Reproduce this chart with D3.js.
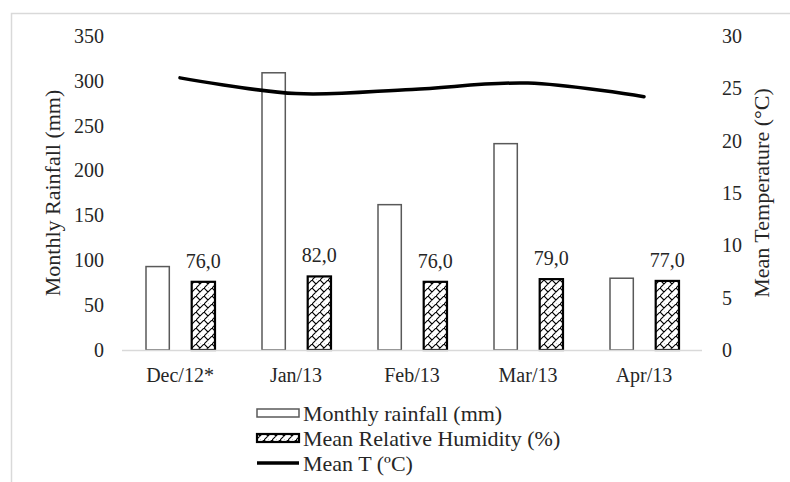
<!DOCTYPE html>
<html><head><meta charset="utf-8">
<script src="https://cdn.jsdelivr.net/npm/d3@7"></script>
<style>body{margin:0;background:#fff}svg{display:block}svg text{font-family:"Liberation Serif","Times New Roman",Tinos,Times,serif !important}</style>
</head><body>
<svg id="c" width="790" height="482"></svg>
<script>
const categories = ["Dec/12*", "Jan/13", "Feb/13", "Mar/13", "Apr/13"];
const rainfall = [93, 309, 162, 230, 80];
const humidity = [76, 82, 76, 79, 77];
const temperature = [26.0, 24.5, 24.9, 25.5, 24.2];
const leftTicks = [0, 50, 100, 150, 200, 250, 300, 350];
const rightTicks = [0, 5, 10, 15, 20, 25, 30];
const seriesNames = ["Monthly rainfall (mm)", "Mean Relative Humidity (%)", "Mean T (ºC)"];

const svg = d3.select("#c");
const defs = svg.append("defs");
const pat = defs.append("pattern").attr("id", "brick").attr("patternUnits", "userSpaceOnUse")
  .attr("width", 8).attr("height", 8);
pat.append("rect").attr("width", 8).attr("height", 8).attr("fill", "#fff");
pat.append("path").attr("d", "M-1,9 L9,-1 M0,0 L4,4 M4,8 L8,12 M-4,4 L0,8")
  .attr("stroke", "#000").attr("stroke-width", 1.1).attr("fill", "none");

// frame
svg.append("rect").attr("x", 11.5).attr("y", 13.5).attr("width", 800).attr("height", 500)
  .attr("fill", "none").attr("stroke", "#d9d9d9").attr("stroke-width", 1.5);

const x = d3.scaleBand().domain(categories).range([122, 702]).padding(0);
const x1 = d3.scaleBand().domain(["rain", "hum"]).range([-34, 35]).paddingInner(0.49);
const yL = d3.scaleLinear().domain([0, 350]).range([350, 36]);
const yR = d3.scaleLinear().domain([0, 30]).range([350, 36]);

const fs = 20;
const gL = svg.append("g").attr("transform", "translate(122,0)")
  .call(d3.axisLeft(yL).tickValues(leftTicks).tickSize(0).tickPadding(18));
gL.select(".domain").remove();
gL.selectAll("text").attr("font-size", fs).attr("fill", "#262626");
const gR = svg.append("g").attr("transform", "translate(702,0)")
  .call(d3.axisRight(yR).tickValues(rightTicks).tickSize(0).tickPadding(20));
gR.select(".domain").remove();
gR.selectAll("text").attr("font-size", fs).attr("fill", "#262626");

const groups = svg.append("g").selectAll("g").data(categories).join("g")
  .attr("transform", d => `translate(${x(d) + x.bandwidth() / 2},0)`);
groups.append("rect")
  .attr("x", x1("rain")).attr("width", x1.bandwidth())
  .attr("y", (d, i) => yL(rainfall[i])).attr("height", (d, i) => yL(0) - yL(rainfall[i]))
  .attr("fill", "#fff").attr("stroke", "#595959").attr("stroke-width", 1.5);
groups.append("rect")
  .attr("x", x1("hum")).attr("width", x1.bandwidth())
  .attr("y", (d, i) => yL(humidity[i])).attr("height", (d, i) => yL(0) - yL(humidity[i]))
  .attr("fill", "url(#brick)").attr("stroke", "#000").attr("stroke-width", 2.2);
groups.append("text")
  .attr("x", x1("hum") + x1.bandwidth() / 2)
  .attr("y", (d, i) => yL(humidity[i]) - 14)
  .attr("text-anchor", "middle").attr("font-size", fs).attr("fill", "#262626")
  .text((d, i) => humidity[i].toFixed(1).replace(".", ","));

svg.append("line").attr("x1", 122).attr("x2", 702).attr("y1", 350.5).attr("y2", 350.5)
  .attr("stroke", "#d9d9d9").attr("stroke-width", 1.5);
const gX = svg.append("g").attr("transform", "translate(0,350)")
  .call(d3.axisBottom(x).tickSize(0).tickPadding(18));
gX.select(".domain").remove();
gX.selectAll("text").attr("font-size", fs).attr("fill", "#262626");

const line = d3.line().x((d, i) => x(categories[i]) + x.bandwidth() / 2).y(d => yR(d))
  .curve(d3.curveCatmullRom.alpha(0.5));
svg.append("path").datum(temperature).attr("d", line)
  .attr("fill", "none").attr("stroke", "#000").attr("stroke-width", 3.5).attr("stroke-linecap", "round");

svg.append("text").attr("transform", "translate(60,193) rotate(-90)")
  .attr("text-anchor", "middle").attr("font-size", 22).attr("fill", "#262626").text("Monthly Rainfall (mm)");
svg.append("text").attr("transform", "translate(769,193) rotate(-90)")
  .attr("text-anchor", "middle").attr("font-size", 22).attr("fill", "#262626").text("Mean Temperature (°C)");

const leg = svg.append("g");
const rows = [413, 438, 463];
leg.append("rect").attr("x", 257).attr("y", rows[0] - 4).attr("width", 42).attr("height", 8)
  .attr("fill", "#fff").attr("stroke", "#595959").attr("stroke-width", 1.5);
leg.append("rect").attr("x", 257).attr("y", rows[1] - 4).attr("width", 42).attr("height", 8)
  .attr("fill", "url(#brick)").attr("stroke", "#000").attr("stroke-width", 2.2);
leg.append("line").attr("x1", 257).attr("x2", 299).attr("y1", rows[2]).attr("y2", rows[2])
  .attr("stroke", "#000").attr("stroke-width", 3.5);
leg.selectAll("text.l").data(seriesNames).join("text").attr("class", "l")
  .attr("x", 303).attr("y", (d, i) => rows[i]).attr("dy", "0.35em")
  .attr("font-size", 22).attr("fill", "#262626").text(d => d);
</script>
</body></html>
